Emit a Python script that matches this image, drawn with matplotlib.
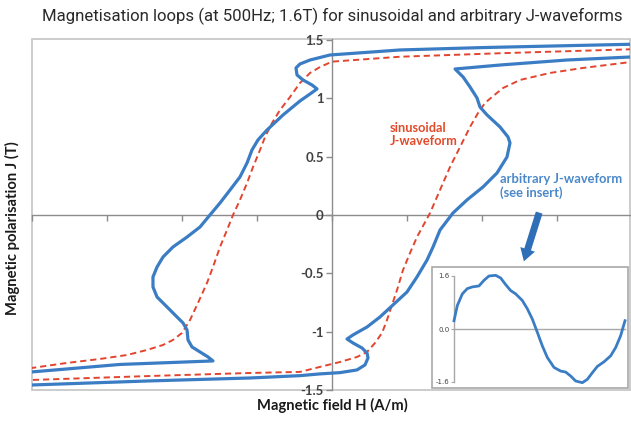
import matplotlib
matplotlib.use("Agg")
import matplotlib.pyplot as plt
from matplotlib.patches import Rectangle

# ---------------- data ----------------
# Arbitrary J-waveform loop (H in A/m, arbitrary scale with ticks every 100; J in T)
arb_H = [424, 398.7, 197.3, 90.7, -2.7, -29.3, -42.7, -48, -46.7, -38.7, -26.7, -20,
         -29.3, -42.7, -65.3, -86.7, -98.7, -106.7, -113.3, -122.7, -136, -149.3, -162.7,
         -176, -193.3, -212, -225.3, -233.3, -238.7, -238.7, -233.3, -220, -206.7, -198.7,
         -193.3, -192, -186.7, -176, -165.3, -158.7, -282.7, -400, -429.3,
         -429.3, -400, -242.7, -109.3, -42.7, -16, 10.7, 33.3, 44, 48, 46.7, 40, 28, 20,
         28, 46.7, 64, 81.3, 100, 113.3, 126.7, 134.7, 144, 161.3, 180, 201.3, 220, 233.3,
         237.3, 234.7, 224, 206.7, 197.3, 193.3, 184, 174.7, 164, 224, 313.3, 398.7, 424, 424]
arb_J = [1.466, 1.463, 1.434, 1.414, 1.371, 1.328, 1.294, 1.260, 1.200, 1.157, 1.114, 1.080,
         1.037, 0.977, 0.857, 0.728, 0.643, 0.557, 0.446, 0.326, 0.214, 0.103, 0.0,
         -0.103, -0.189, -0.274, -0.360, -0.446, -0.531, -0.617, -0.703, -0.788, -0.874, -0.925,
         -0.985, -1.071, -1.131, -1.174, -1.217, -1.251, -1.281, -1.345, -1.358,
         -1.465, -1.457, -1.422, -1.397, -1.377, -1.362, -1.351, -1.328, -1.285, -1.225, -1.183,
         -1.140, -1.097, -1.063,
         -1.028, -0.960, -0.874, -0.771, -0.660, -0.531, -0.386, -0.274, -0.129, 0.017, 0.129,
         0.240, 0.360, 0.497, 0.617, 0.668, 0.754, 0.857, 0.925, 1.003, 1.097, 1.183, 1.251,
         1.285, 1.328, 1.354, 1.362, 1.466]

# Sinusoidal J-waveform loop
sin_H = [424, 398.7, 224, 90.7, 0, -16, -29.3, -42.7, -56, -69.3, -80, -89.3, -96, -105.3,
         -113.3, -122.7, -132, -140, -149.3, -158.7, -166.7, -178.7, -189.3, -200, -212,
         -225.3, -246.7, -273.3, -309.3, -353.3, -400, -429.3,
         -429.3, -400, -242.7, -109.3, -42.7, -16, 10.7, 33.3, 46.7, 57.3, 66.7, 73.3, 80,
         86.7, 94.7, 104, 113.3, 130.7, 144, 157.3, 170.7, 184, 194.7, 204, 213.3, 228,
         250.7, 290.7, 334.7, 398.7, 424, 424]
sin_J = [1.424, 1.420, 1.386, 1.356, 1.314, 1.268, 1.217, 1.131, 1.011, 0.900, 0.788, 0.668,
         0.557, 0.411, 0.274, 0.129, 0.0, -0.129, -0.274, -0.446, -0.583, -0.754, -0.900,
         -1.011, -1.071, -1.114, -1.157, -1.200, -1.234, -1.268, -1.311, -1.324,
         -1.422, -1.414, -1.380, -1.354, -1.345, -1.302, -1.260, -1.217, -1.174, -1.097,
         -1.011, -0.900, -0.771, -0.643, -0.471, -0.326, -0.189, 0.017, 0.214, 0.411, 0.583,
         0.754, 0.874, 0.960, 1.011, 1.088, 1.157, 1.217, 1.260, 1.311, 1.320, 1.424]

# Insert: arbitrary J-waveform over one period (t in ms at 500 Hz)
ins_x = [75, 85, 100, 115, 130, 150, 165, 180, 200, 215, 230, 245, 260, 280, 295, 310, 325,
         340, 355, 375, 395, 410, 425, 440, 460, 475, 490, 505, 525, 545, 560, 575, 588]
ins_t = [(x - 75) / 513 * 2 for x in ins_x]
ins_J = [0.25, 0.71, 1.06, 1.22, 1.27, 1.30, 1.47, 1.60, 1.62, 1.54, 1.34, 1.16, 1.06, 0.86,
         0.61, 0.30, -0.10, -0.51, -0.86, -1.16, -1.27, -1.30, -1.42, -1.57, -1.62, -1.52,
         -1.32, -1.13, -0.99, -0.81, -0.56, -0.20, 0.25]

y_ticks = [-1.5, -1.0, -0.5, 0.0, 0.5, 1.0, 1.5]
y_tick_labels = ["-1.5", "-1", "-0.5", "0", "0.5", "1", "1.5"]
x_ticks = [-400, -300, -200, -100, 0, 100, 200, 300]
ins_ticks = [-1.6, 0.0, 1.6]
ins_tick_labels = ["-1.6", "0.0", "1.6"]

title = "Magnetisation loops (at 500Hz; 1.6T) for sinusoidal and arbitrary J-waveforms"
xlabel = "Magnetic field H (A/m)"
ylabel = "Magnetic polarisation J (T)"

# ---------------- styling ----------------
BLUE = "#3b7dc4"
RED = "#e2452f"
AXC = "#8c8c8c"
FRAME = "#c4c4c4"
LAB_FONT = ["Lato", "DejaVu Sans"]

W, H = 631, 421
fig = plt.figure(figsize=(W / 100, H / 100), dpi=100)
fig.patch.set_facecolor("white")

ax = fig.add_axes([32 / W, (H - 390) / H, (630 - 32) / W, (390 - 39) / H])
ax.set_xlim(-400, 397.3)
ax.set_ylim(-1.5, 1.508)

ax.plot(sin_H, sin_J, color=RED, lw=1.4, ls=(0, (3.2, 2.0)), zorder=3)
ax.plot(arb_H, arb_J, color=BLUE, lw=2.3, zorder=4, solid_joinstyle="round")

for s in ["top", "right"]:
    ax.spines[s].set_visible(False)
ax.spines["left"].set_position(("data", 0))
ax.spines["bottom"].set_position(("data", 0))
for s in ["left", "bottom"]:
    ax.spines[s].set_color(AXC)
    ax.spines[s].set_linewidth(1.0)
ax.spines["bottom"].set_zorder(1)
ax.add_patch(Rectangle((0, 0), 1, 1, transform=ax.transAxes, fill=False,
                       edgecolor=FRAME, lw=1.2, clip_on=False, zorder=0))

ax.set_yticks(y_ticks)
ax.set_yticklabels(y_tick_labels)
ax.set_xticks(x_ticks)
ax.set_xticklabels([])
ax.tick_params(axis="both", direction="out", color=AXC, length=4, width=1.0)
ax.tick_params(axis="y", pad=2, labelsize=9.5, labelcolor="#404040")
for lab in ax.get_yticklabels():
    lab.set_fontweight("bold")
    lab.set_family(LAB_FONT)

fig.text(332 / W, 1 - 405 / H, xlabel, ha="center", va="center", fontsize=10.6,
         fontweight="bold", family=LAB_FONT, color="#1a1a1a")
fig.text(12 / W, 1 - 228 / H, ylabel, ha="center", va="center", rotation=90,
         fontsize=10.6, fontweight="bold", family=LAB_FONT, color="#1a1a1a")
ttl = fig.text(332 / W, 1 - 16 / H, title, ha="center", va="center", fontsize=13,
               family=["Roboto", "DejaVu Sans"], color="#2a2a2a")
fig.canvas.draw()
tw = ttl.get_window_extent().width
ttl.set_fontsize(13 * 579 / tw)

ax.text(77, 0.80, "sinusoidal\nJ-waveform", color="#e24a2a", fontsize=9.2,
        fontweight="bold", family=LAB_FONT, ha="left", va="top", linespacing=1.15)
ax.text(224, 0.36, "arbitrary J-waveform\n(see insert)", color="#4a88c8", fontsize=9.3,
        fontweight="bold", family=LAB_FONT, ha="left", va="top", linespacing=1.15)

ax.annotate("", xy=(254.7, -0.42), xytext=(277.3, 0.043),
            arrowprops=dict(arrowstyle="simple,head_width=1.1,head_length=0.9,tail_width=0.5",
                            color="#2f6fb8", lw=0))

# ---------------- insert ----------------
ia = fig.add_axes([432 / W, (H - 388) / H, (628 - 432) / W, (388 - 267) / H])
px_per_ms = (625 - 454) / 2.0
ia.set_xlim(-(454 - 432) / px_per_ms, 2 + (628 - 625) / px_per_ms)
px_per_T = (382 - 276) / 3.2
ia.set_ylim(-1.6 - (388 - 382) / px_per_T, 1.6 + (276 - 267) / px_per_T)
ia.plot(ins_t, ins_J, color=BLUE, lw=2.0, zorder=3)
for s in ["top", "right"]:
    ia.spines[s].set_visible(False)
ia.spines["left"].set_position(("data", 0))
ia.spines["left"].set_bounds(-1.6, 1.6)
ia.spines["bottom"].set_position(("data", 0))
ia.spines["bottom"].set_bounds(0, 2)
for s in ["left", "bottom"]:
    ia.spines[s].set_color("#a8a8a8")
    ia.spines[s].set_linewidth(1.0)
ia.set_xticks([])
ia.set_yticks(ins_ticks)
ia.set_yticklabels(ins_tick_labels)
ia.tick_params(axis="y", direction="out", length=2, color="#a8a8a8", pad=1,
               labelsize=5, labelcolor="#404040")
ia.add_patch(Rectangle((0, 0), 1, 1, transform=ia.transAxes, fill=False,
                       edgecolor="#a8a8a8", lw=1.2, clip_on=False, zorder=5))

fig.savefig("out.png", dpi=100, facecolor="white")
